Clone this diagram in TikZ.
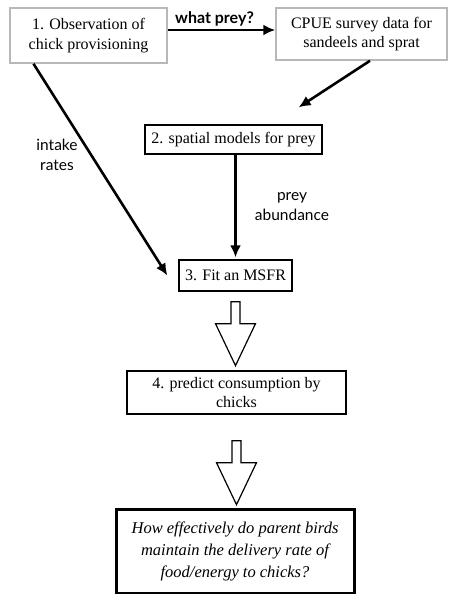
\documentclass[tikz,border=0pt]{standalone}
\usepackage{fontspec}
\setmainfont{Liberation Serif}
\newfontfamily\labelfont{Lato}
\usetikzlibrary{positioning,arrows.meta,calc}
\definecolor{BoxGrey}{HTML}{B8B8B8}

\begin{document}
\begin{tikzpicture}[x=1pt,y=-1pt,
  every node/.style={align=center,inner sep=0pt,font=\fontsize{16}{19.5}\selectfont},
  greybox/.style={draw=BoxGrey,line width=1.5pt},
  blackbox/.style={draw=black,line width=1.3pt},
  flow/.style={line width=2.6pt,-{Latex[length=12pt,width=11pt]}},
  hollow/.style={draw,line width=1.2pt,fill=white,line join=miter},
  lbl/.style={font=\labelfont\fontsize{15.5}{20}\selectfont}]
  \useasboundingbox (0,0) rectangle (454,594);
  % boxes
  \node[greybox,minimum width=157pt,minimum height=55pt] (obs) at (88.5,35.5) {1. Observation of\\chick provisioning};
  \node[greybox,minimum width=171pt,minimum height=52pt] (cpue) at (361.5,34) {CPUE survey data for\\sandeels and sprat};
  \node[blackbox,minimum width=177pt,minimum height=29pt] (spatial) at (233.5,139.5) {2. spatial models for prey};
  \node[blackbox,minimum width=113pt,minimum height=31pt] (msfr) at (235.5,275.5) {3. Fit an MSFR};
  \node[blackbox,minimum width=219pt,minimum height=43pt] (predict) at (236.5,392.5) {4. predict consumption by\\chicks};
  \node[draw,line width=3pt,minimum width=238pt,minimum height=84pt,font=\itshape\fontsize{16.5}{22}\selectfont] (question) at (235,551)
    {How effectively do parent birds\\maintain the delivery rate of\\food/energy to chicks?};
  % labels
  \node[lbl] (intake) at (57,155) {intake\\rates};
  \node[lbl] (abund) at (292,207) {prey\\abundance};
  % connectors
  \draw[flow] ([yshift=5.5pt]obs.east) -- ([yshift=5.5pt]obs.east -| cpue.west)
    node[midway,above=3pt,xshift=-7pt,font=\labelfont\bfseries\fontsize{16}{20}\selectfont] (whatprey) {what prey?};
  \draw[flow] ($(obs.south west)!0.153!(obs.south east)$) -- ([xshift=-11pt]msfr.west);
  \draw[flow] ([xshift=8.5pt]cpue.south) -- ([xshift=-24pt,yshift=17pt]spatial.north east);
  \draw[flow] (spatial.south -| msfr.north) -- ([yshift=2pt]msfr.north);
  \foreach \a/\g in {msfr/10, predict/26}
    \draw[hollow] ([xshift=-4.5pt,yshift=-\g pt]\a.south) -- ++(0,22) -- ++(-15.5,0) -- ++(20,42)
      -- ++(20,-42) -- ++(-15.5,0) -- ++(0,-22) -- cycle;
\end{tikzpicture}
\end{document}
